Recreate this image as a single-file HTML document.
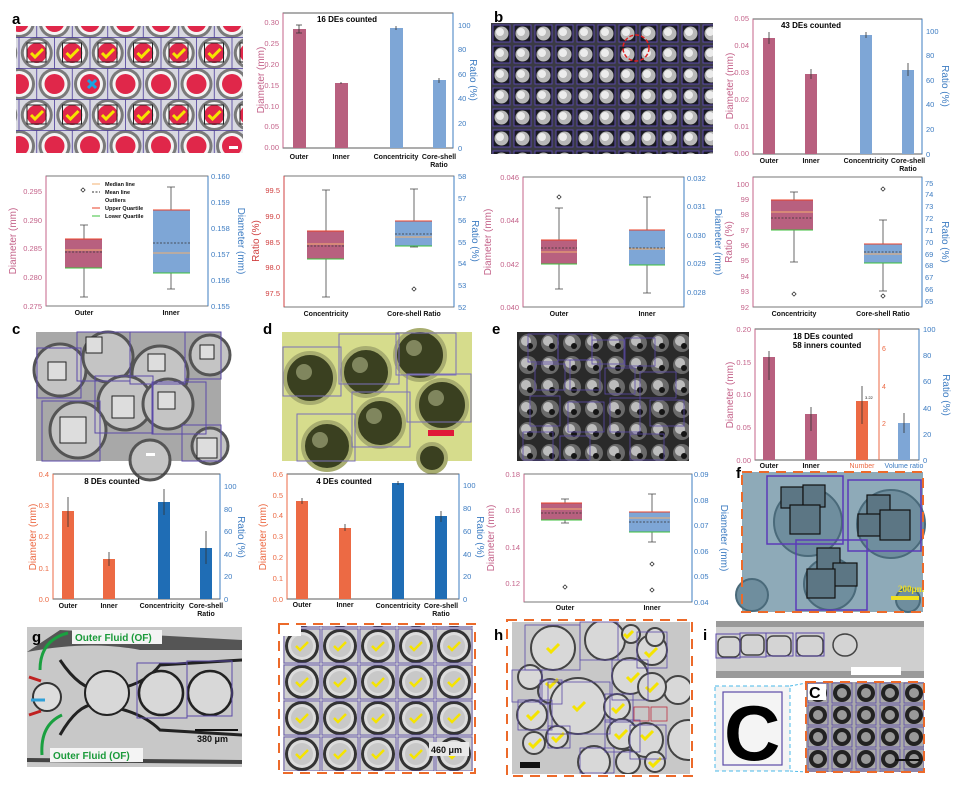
<!DOCTYPE html>
<html><head><meta charset="utf-8"><style>
html,body{margin:0;padding:0;background:#fff;}
svg{display:block;font-family:"Liberation Sans",sans-serif;}
.t{font-size:7.5px;}
.pk{fill:#c4638a;}
.bl{fill:#3d7cc2;}
.or{fill:#ec6a44;}
.k{fill:#111;}
.b{font-weight:bold;}
.cat{font-size:7px;font-weight:bold;fill:#111;text-anchor:middle;}
.al{font-size:10px;}
.lab{font-size:15px;font-weight:bold;fill:#000;}
</style></head><body>
<svg width="955" height="785" viewBox="0 0 955 785" xmlns="http://www.w3.org/2000/svg">
<defs>
<pattern id="pA" x="19" y="22" width="35.5" height="62" patternUnits="userSpaceOnUse">
  <rect width="35.5" height="62" fill="#d8d8e0"/>
  <g fill="#7a7a7a"><circle cx="0" cy="0" r="16"/><circle cx="35.5" cy="0" r="16"/><circle cx="17.75" cy="31" r="16"/><circle cx="0" cy="62" r="16"/><circle cx="35.5" cy="62" r="16"/></g>
  <g fill="#f4f4f4"><circle cx="0" cy="0" r="13"/><circle cx="35.5" cy="0" r="13"/><circle cx="17.75" cy="31" r="13"/><circle cx="0" cy="62" r="13"/><circle cx="35.5" cy="62" r="13"/></g>
  <g fill="#e0274a"><circle cx="0" cy="0" r="10"/><circle cx="35.5" cy="0" r="10"/><circle cx="17.75" cy="31" r="10"/><circle cx="0" cy="62" r="10"/><circle cx="35.5" cy="62" r="10"/></g>
  <path d="M12 31 l4 4 l8 -8" stroke="#f5e400" stroke-width="3" fill="none"/>
  <rect x="8" y="21" width="19" height="19" fill="none" stroke="#222" stroke-width="1"/>
  <path d="M0 15.5H35.5M0 46.5H35.5M35.5 15.5V46.5M0 15.5V46.5M17.75 0V15.5M17.75 46.5V62" stroke="#4a3a9a" stroke-width="0.8"/>
</pattern>
<pattern id="pB" x="491" y="23" width="21" height="21" patternUnits="userSpaceOnUse">
  <rect width="21" height="21" fill="#3a3a44"/>
  <rect x="2" y="2" width="17" height="17" fill="#1a1a22" stroke="#5b4aa8" stroke-width="1"/>
  <circle cx="10.5" cy="10.5" r="7" fill="#b8b8b8"/><circle cx="9" cy="9" r="4" fill="#ececec"/>
</pattern>
<pattern id="pE" x="517" y="332" width="22" height="22" patternUnits="userSpaceOnUse">
  <rect width="22" height="22" fill="#2a2a2a"/>
  <circle cx="11" cy="11" r="9" fill="#6a6a6a"/><circle cx="9" cy="9" r="5" fill="#bdbdbd"/><circle cx="13" cy="14" r="3" fill="#151515"/>
</pattern>
<pattern id="pG" x="283" y="628" width="38" height="36" patternUnits="userSpaceOnUse">
  <rect width="38" height="36" fill="#cfcfcf"/>
  <circle cx="19" cy="18" r="17" fill="#333"/><circle cx="19" cy="18" r="14" fill="#dcdcdc"/><circle cx="19" cy="18" r="11" fill="#c8c8c8"/>
  <path d="M13 18 l4 4 l8 -8" stroke="#f5e400" stroke-width="2.5" fill="none"/>
  <rect x="1" y="1" width="36" height="34" fill="none" stroke="#5b4aa8" stroke-width="0.8"/>
</pattern>
<pattern id="pI" x="806" y="682" width="24" height="22" patternUnits="userSpaceOnUse">
  <rect width="24" height="22" fill="#aaa"/>
  <circle cx="12" cy="11" r="9" fill="#222"/><circle cx="12" cy="11" r="5" fill="#999"/>
  <rect x="2" y="1" width="20" height="20" fill="none" stroke="#5b4aa8" stroke-width="0.8"/>
</pattern>
<clipPath id="cH"><rect x="512" y="622" width="178" height="152"/></clipPath>
<clipPath id="cG"><rect x="27" y="627" width="215" height="140"/></clipPath>
</defs>

<!-- ===== Panel a image ===== -->
<text x="12" y="24" class="lab">a</text>
<rect x="16" y="26" width="227" height="127" fill="url(#pA)"/>
<path d="M88 80 l8 8 M96 80 l-8 8" stroke="#1aa3e0" stroke-width="3"/>
<rect x="229" y="146" width="9" height="3" fill="#fff"/>

<!-- ===== Bar chart a ===== -->
<g>
<rect x="283" y="13" width="170" height="135" fill="none" stroke="#333" stroke-width="0.8"/>
<line x1="283" y1="13" x2="283" y2="148" stroke="#c4638a"/>
<line x1="453" y1="13" x2="453" y2="148" stroke="#3d7cc2"/>
<g class="t pk" text-anchor="end">
<text x="279" y="150">0.00</text><text x="279" y="129">0.05</text><text x="279" y="109">0.10</text><text x="279" y="88">0.15</text><text x="279" y="67">0.20</text><text x="279" y="46">0.25</text><text x="279" y="25">0.30</text></g>
<g class="t bl"><text x="458" y="151">0</text><text x="458" y="126">20</text><text x="458" y="101">40</text><text x="458" y="77">60</text><text x="458" y="52">80</text><text x="458" y="28">100</text></g>
<text transform="translate(264,80) rotate(-90)" class="al pk" text-anchor="middle">Diameter (mm)</text>
<text transform="translate(470,80) rotate(90)" class="al bl" text-anchor="middle">Ratio (%)</text>
<text x="347" y="22" class="b" font-size="8" text-anchor="middle">16 DEs counted</text>
<rect x="293" y="29" width="13" height="119" fill="#b8607f"/>
<rect x="335" y="83" width="13" height="65" fill="#b8607f"/>
<rect x="390" y="28" width="13" height="120" fill="#7ea6d6"/>
<rect x="433" y="80" width="13" height="68" fill="#7ea6d6"/>
<path d="M299 25V33M296 25h6M296 33h6M341 82V84M396 26V30M439 78V83" stroke="#333" stroke-width="0.8"/>
<g class="cat"><text x="299" y="159">Outer</text><text x="341" y="159">Inner</text><text x="396" y="159">Concentricity</text><text x="439" y="159">Core-shell</text><text x="439" y="167">Ratio</text></g>
</g>

<!-- ===== Panel b image ===== -->
<text x="494" y="22" class="lab">b</text>
<rect x="491" y="23" width="222" height="131" fill="url(#pB)"/>
<circle cx="636" cy="48" r="13" fill="none" stroke="#e02020" stroke-width="1.5" stroke-dasharray="4,2"/>

<!-- ===== Bar chart b ===== -->
<g>
<rect x="753" y="19" width="169" height="135" fill="none" stroke="#333" stroke-width="0.8"/>
<line x1="753" y1="19" x2="753" y2="154" stroke="#c4638a"/>
<line x1="922" y1="19" x2="922" y2="154" stroke="#3d7cc2"/>
<g class="t pk" text-anchor="end"><text x="749" y="156">0.00</text><text x="749" y="129">0.01</text><text x="749" y="102">0.02</text><text x="749" y="75">0.03</text><text x="749" y="48">0.04</text><text x="749" y="21">0.05</text></g>
<g class="t bl"><text x="926" y="157">0</text><text x="926" y="132">20</text><text x="926" y="107">40</text><text x="926" y="83">60</text><text x="926" y="58">80</text><text x="926" y="34">100</text></g>
<text transform="translate(733,86) rotate(-90)" class="al pk" text-anchor="middle">Diameter (mm)</text>
<text transform="translate(942,86) rotate(90)" class="al bl" text-anchor="middle">Ratio (%)</text>
<text x="811" y="28" class="b" font-size="8" text-anchor="middle">43 DEs counted</text>
<rect x="763" y="38" width="12" height="116" fill="#b8607f"/>
<rect x="805" y="74" width="12" height="80" fill="#b8607f"/>
<rect x="860" y="35" width="12" height="119" fill="#7ea6d6"/>
<rect x="902" y="70" width="12" height="84" fill="#7ea6d6"/>
<path d="M769 32V44M811 69V79M866 32V38M908 63V76" stroke="#333" stroke-width="0.8"/>
<g class="cat"><text x="769" y="163">Outer</text><text x="811" y="163">Inner</text><text x="866" y="163">Concentricity</text><text x="908" y="163">Core-shell</text><text x="908" y="171">Ratio</text></g>
</g>

<!-- ===== Box a1 ===== -->
<g>
<rect x="46" y="176" width="162" height="130" fill="none" stroke="#555" stroke-width="0.8"/>
<line x1="46" y1="176" x2="46" y2="306" stroke="#c4638a"/>
<line x1="208" y1="176" x2="208" y2="306" stroke="#3d7cc2"/>
<g class="t pk" text-anchor="end"><text x="42" y="309">0.275</text><text x="42" y="280">0.280</text><text x="42" y="251">0.285</text><text x="42" y="223">0.290</text><text x="42" y="194">0.295</text></g>
<g class="t bl"><text x="211" y="309">0.155</text><text x="211" y="283">0.156</text><text x="211" y="257">0.157</text><text x="211" y="231">0.158</text><text x="211" y="205">0.159</text><text x="211" y="179">0.160</text></g>
<text transform="translate(16,241) rotate(-90)" class="al pk" text-anchor="middle">Diameter (mm)</text>
<text transform="translate(238,241) rotate(90)" class="al bl" text-anchor="middle">Diameter (mm)</text>
<path d="M84 225V297M80 225h8M80 297h8M171 187V289M167 187h8M167 289h8" stroke="#444" stroke-width="0.8"/>
<rect x="65" y="239" width="37" height="29" fill="#b8607f"/>
<rect x="153" y="210" width="37" height="63" fill="#7ea6d6"/>
<path d="M65 239h37M153 210h37" stroke="#e8402a" stroke-width="1"/>
<path d="M65 268h37M153 273h37" stroke="#3cc03c" stroke-width="1"/>
<path d="M65 250h37M153 253h37" stroke="#f3b070" stroke-width="1"/>
<path d="M65 252h37M153 243h37" stroke="#333" stroke-width="0.8" stroke-dasharray="2,1.5"/>
<rect x="81.5" y="188.5" width="3" height="3" fill="none" stroke="#222" stroke-width="0.7" transform="rotate(45 83 190)"/>
<g font-size="5.5" class="k b">
<path d="M92 184h8" stroke="#f3b070"/><text x="105" y="186">Median line</text>
<path d="M92 192h8" stroke="#333" stroke-dasharray="2,1.5"/><text x="105" y="194">Mean line</text>
<text x="105" y="202">Outliers</text>
<path d="M92 208h8" stroke="#e8402a"/><text x="105" y="210">Upper Quartile</text>
<path d="M92 216h8" stroke="#3cc03c"/><text x="105" y="218">Lower Quartile</text></g>
<g class="cat"><text x="84" y="315">Outer</text><text x="171" y="315">Inner</text></g>
</g>

<!-- ===== Box a2 ===== -->
<g>
<rect x="284" y="176" width="170" height="131" fill="none" stroke="#555" stroke-width="0.8"/>
<line x1="284" y1="176" x2="284" y2="307" stroke="#d04040"/>
<line x1="454" y1="176" x2="454" y2="307" stroke="#3d7cc2"/>
<g class="t" fill="#d04040" text-anchor="end"><text x="280" y="296">97.5</text><text x="280" y="270">98.0</text><text x="280" y="245">98.5</text><text x="280" y="219">99.0</text><text x="280" y="193">99.5</text></g>
<g class="t bl"><text x="458" y="310">52</text><text x="458" y="288">53</text><text x="458" y="266">54</text><text x="458" y="245">55</text><text x="458" y="223">56</text><text x="458" y="201">57</text><text x="458" y="179">58</text></g>
<text transform="translate(259,241) rotate(-90)" class="al" fill="#d04040" text-anchor="middle">Ratio (%)</text>
<text transform="translate(472,241) rotate(90)" class="al bl" text-anchor="middle">Ratio (%)</text>
<path d="M326 190V297M322 190h8M322 297h8M414 189V247M410 189h8M410 247h8" stroke="#444" stroke-width="0.8"/>
<rect x="307" y="231" width="37" height="28" fill="#b8607f"/>
<rect x="395" y="221" width="37" height="25" fill="#7ea6d6"/>
<path d="M307 231h37M395 221h37" stroke="#e8402a"/>
<path d="M307 259h37M395 246h37" stroke="#3cc03c"/>
<path d="M307 244h37M395 237h37" stroke="#f3b070"/>
<path d="M307 246h37M395 234h37" stroke="#333" stroke-width="0.8" stroke-dasharray="2,1.5"/>
<rect x="412.5" y="287.5" width="3" height="3" fill="none" stroke="#222" stroke-width="0.7" transform="rotate(45 414 289)"/>
<g class="cat"><text x="326" y="316">Concentricity</text><text x="414" y="316">Core-shell Ratio</text></g>
</g>

<!-- ===== Box b1 ===== -->
<g>
<rect x="523" y="177" width="161" height="130" fill="none" stroke="#555" stroke-width="0.8"/>
<line x1="523" y1="177" x2="523" y2="307" stroke="#c4638a"/>
<line x1="684" y1="177" x2="684" y2="307" stroke="#3d7cc2"/>
<g class="t pk" text-anchor="end"><text x="519" y="310">0.040</text><text x="519" y="267">0.042</text><text x="519" y="223">0.044</text><text x="519" y="180">0.046</text></g>
<g class="t bl"><text x="687" y="295">0.028</text><text x="687" y="266">0.029</text><text x="687" y="238">0.030</text><text x="687" y="209">0.031</text><text x="687" y="181">0.032</text></g>
<text transform="translate(491,242) rotate(-90)" class="al pk" text-anchor="middle">Diameter (mm)</text>
<text transform="translate(715,242) rotate(90)" class="al bl" text-anchor="middle">Diameter (mm)</text>
<path d="M559 208V289M555 208h8M555 289h8M647 197V293M643 197h8M643 293h8" stroke="#444" stroke-width="0.8"/>
<rect x="541" y="240" width="36" height="24" fill="#b8607f"/>
<rect x="629" y="230" width="36" height="35" fill="#7ea6d6"/>
<path d="M541 240h36M629 230h36" stroke="#e8402a"/>
<path d="M541 264h36M629 265h36" stroke="#3cc03c"/>
<path d="M541 252h36M629 249h36" stroke="#f3b070"/>
<path d="M541 248h36M629 248h36" stroke="#333" stroke-width="0.8" stroke-dasharray="2,1.5"/>
<rect x="557.5" y="195.5" width="3" height="3" fill="none" stroke="#222" stroke-width="0.7" transform="rotate(45 559 197)"/>
<g class="cat"><text x="559" y="316">Outer</text><text x="647" y="316">Inner</text></g>
</g>

<!-- ===== Box b2 ===== -->
<g>
<rect x="753" y="177" width="169" height="130" fill="none" stroke="#555" stroke-width="0.8"/>
<line x1="753" y1="177" x2="753" y2="307" stroke="#c4638a"/>
<line x1="922" y1="177" x2="922" y2="307" stroke="#3d7cc2"/>
<g class="t pk" text-anchor="end"><text x="749" y="310">92</text><text x="749" y="294">93</text><text x="749" y="279">94</text><text x="749" y="263">95</text><text x="749" y="248">96</text><text x="749" y="233">97</text><text x="749" y="217">98</text><text x="749" y="202">99</text><text x="749" y="187">100</text></g>
<g class="t bl"><text x="925" y="304">65</text><text x="925" y="292">66</text><text x="925" y="280">67</text><text x="925" y="268">68</text><text x="925" y="257">69</text><text x="925" y="245">70</text><text x="925" y="233">71</text><text x="925" y="221">72</text><text x="925" y="209">73</text><text x="925" y="197">74</text><text x="925" y="186">75</text></g>
<text transform="translate(732,242) rotate(-90)" class="al pk" text-anchor="middle">Ratio (%)</text>
<text transform="translate(942,242) rotate(90)" class="al bl" text-anchor="middle">Ratio (%)</text>
<path d="M794 192V262M790 192h8M790 262h8M883 220V291M879 220h8M879 291h8" stroke="#444" stroke-width="0.8"/>
<rect x="771" y="200" width="42" height="30" fill="#b8607f"/>
<rect x="864" y="244" width="38" height="19" fill="#7ea6d6"/>
<path d="M771 200h42M864 244h38" stroke="#e8402a"/>
<path d="M771 230h42M864 263h38" stroke="#3cc03c"/>
<path d="M771 212h42M864 254h38" stroke="#f3b070"/>
<path d="M771 218h42M864 252h38" stroke="#333" stroke-width="0.8" stroke-dasharray="2,1.5"/>
<g fill="none" stroke="#222" stroke-width="0.7">
<rect x="792.5" y="292.5" width="3" height="3" transform="rotate(45 794 294)"/>
<rect x="881.5" y="187.5" width="3" height="3" transform="rotate(45 883 189)"/>
<rect x="881.5" y="294.5" width="3" height="3" transform="rotate(45 883 296)"/></g>
<g class="cat"><text x="794" y="316">Concentricity</text><text x="883" y="316">Core-shell Ratio</text></g>
</g>

<!-- ===== Panel c image ===== -->
<text x="12" y="334" class="lab">c</text>
<rect x="36" y="332" width="185" height="129" fill="#a8a8a8"/>
<g fill="#c4c4c4" stroke="#555" stroke-width="3">
<circle cx="60" cy="370" r="26"/><circle cx="108" cy="357" r="25"/><circle cx="160" cy="374" r="28"/><circle cx="210" cy="355" r="20"/>
<circle cx="125" cy="403" r="27"/><circle cx="168" cy="404" r="25"/><circle cx="78" cy="430" r="28"/><circle cx="210" cy="446" r="18"/><circle cx="150" cy="460" r="20"/></g>
<g fill="#ddd" stroke="#222" stroke-width="1">
<rect x="48" y="362" width="18" height="18"/><rect x="86" y="337" width="16" height="16"/><rect x="148" y="354" width="17" height="17"/><rect x="200" y="345" width="14" height="14"/>
<rect x="112" y="396" width="22" height="22"/><rect x="158" y="392" width="17" height="17"/><rect x="60" y="417" width="26" height="26"/><rect x="197" y="438" width="20" height="20"/></g>
<g fill="none" stroke="#5b4aa8" stroke-width="1">
<rect x="37" y="348" width="44" height="50"/><rect x="77" y="332" width="53" height="49"/><rect x="130" y="332" width="55" height="52"/><rect x="185" y="332" width="36" height="47"/>
<rect x="95" y="376" width="58" height="57"/><rect x="152" y="382" width="54" height="52"/><rect x="42" y="401" width="58" height="60"/><rect x="182" y="425" width="39" height="36"/></g>
<rect x="146" y="453" width="9" height="3" fill="#fff"/>

<!-- ===== Panel d image ===== -->
<text x="263" y="334" class="lab">d</text>
<rect x="282" y="332" width="190" height="129" fill="#d6dc8c"/>
<g fill="#3a4020" stroke="#a8ad70" stroke-width="4">
<circle cx="310" cy="378" r="25"/><circle cx="366" cy="372" r="24"/><circle cx="420" cy="355" r="25"/><circle cx="442" cy="405" r="25"/><circle cx="380" cy="423" r="24"/><circle cx="327" cy="446" r="24"/><circle cx="432" cy="458" r="14"/></g>
<g fill="#b0b688" opacity="0.6"><circle cx="304" cy="372" r="8"/><circle cx="360" cy="365" r="8"/><circle cx="414" cy="348" r="8"/><circle cx="436" cy="398" r="8"/><circle cx="374" cy="416" r="8"/><circle cx="320" cy="440" r="8"/></g>
<g fill="none" stroke="#7b70b8" stroke-width="1">
<rect x="283" y="347" width="58" height="49"/><rect x="339" y="334" width="60" height="50"/><rect x="396" y="333" width="60" height="42"/><rect x="407" y="374" width="64" height="48"/>
<rect x="352" y="392" width="58" height="55"/><rect x="297" y="414" width="58" height="47"/></g>
<rect x="428" y="430" width="26" height="6" fill="#e01838"/>

<!-- ===== Panel e image ===== -->
<text x="492" y="334" class="lab">e</text>
<rect x="517" y="332" width="172" height="129" fill="url(#pE)"/>
<g fill="none" stroke="#5b4aa8" stroke-width="0.8">
<rect x="528" y="334" width="30" height="28"/><rect x="558" y="334" width="34" height="26"/><rect x="592" y="340" width="32" height="24"/><rect x="625" y="338" width="30" height="28"/>
<rect x="535" y="364" width="30" height="26"/><rect x="570" y="360" width="30" height="30"/><rect x="605" y="368" width="30" height="26"/><rect x="640" y="372" width="36" height="26"/>
<rect x="530" y="396" width="30" height="30"/><rect x="568" y="402" width="36" height="30"/><rect x="610" y="398" width="30" height="34"/><rect x="650" y="400" width="34" height="26"/>
<rect x="523" y="432" width="30" height="28"/><rect x="560" y="436" width="30" height="24"/><rect x="630" y="434" width="34" height="26"/></g>

<!-- ===== Bar chart e ===== -->
<g>
<rect x="755" y="329" width="164" height="131" fill="none" stroke="#333" stroke-width="0.8"/>
<line x1="755" y1="329" x2="755" y2="460" stroke="#c4638a"/>
<line x1="919" y1="329" x2="919" y2="460" stroke="#3d7cc2"/>
<line x1="879" y1="329" x2="879" y2="460" stroke="#ec6a44"/>
<g class="t pk" text-anchor="end"><text x="751" y="463">0.00</text><text x="751" y="430">0.05</text><text x="751" y="397">0.10</text><text x="751" y="365">0.15</text><text x="751" y="332">0.20</text></g>
<g class="t bl"><text x="923" y="463">0</text><text x="923" y="437">20</text><text x="923" y="411">40</text><text x="923" y="384">60</text><text x="923" y="358">80</text><text x="923" y="332">100</text></g>
<g font-size="7" class="or"><text x="882" y="426">2</text><text x="882" y="389">4</text><text x="882" y="351">6</text></g>
<text transform="translate(733,395) rotate(-90)" class="al pk" text-anchor="middle">Diameter (mm)</text>
<text transform="translate(943,395) rotate(90)" class="al bl" text-anchor="middle">Ratio (%)</text>
<text x="823" y="339" class="b" font-size="8" text-anchor="middle">18 DEs counted</text>
<text x="827" y="348" class="b" font-size="8" text-anchor="middle">58 inners counted</text>
<rect x="763" y="357" width="12" height="103" fill="#b8607f"/>
<rect x="805" y="414" width="12" height="46" fill="#b8607f"/>
<rect x="856" y="401" width="12" height="59" fill="#ec6a44"/>
<rect x="898" y="423" width="12" height="37" fill="#7ea6d6"/>
<path d="M769 351V380M811 407V431M862 386V424M904 413V433" stroke="#333" stroke-width="0.8"/>
<text x="865" y="399" font-size="4" class="k">3.22</text>
<g class="cat"><text x="769" y="468">Outer</text><text x="811" y="468">Inner</text></g>
<text x="862" y="468" font-size="7" class="or" text-anchor="middle">Number</text>
<text x="904" y="468" font-size="7" class="bl" text-anchor="middle">Volume ratio</text>
</g>

<!-- ===== Bar c ===== -->
<g>
<rect x="53" y="474" width="167" height="125" fill="none" stroke="#333" stroke-width="0.8"/>
<line x1="53" y1="474" x2="53" y2="599" stroke="#ec6a44"/>
<line x1="220" y1="474" x2="220" y2="599" stroke="#3d7cc2"/>
<g class="t or" text-anchor="end"><text x="49" y="602">0.0</text><text x="49" y="571">0.1</text><text x="49" y="539">0.2</text><text x="49" y="508">0.3</text><text x="49" y="477">0.4</text></g>
<g class="t bl"><text x="224" y="602">0</text><text x="224" y="579">20</text><text x="224" y="557">40</text><text x="224" y="534">60</text><text x="224" y="512">80</text><text x="224" y="489">100</text></g>
<text transform="translate(36,537) rotate(-90)" class="al or" text-anchor="middle">Diameter (mm)</text>
<text transform="translate(238,537) rotate(90)" class="al bl" text-anchor="middle">Ratio (%)</text>
<text x="112" y="484" class="b" font-size="8" text-anchor="middle">8 DEs counted</text>
<rect x="62" y="511" width="12" height="88" fill="#ec6a44"/>
<rect x="103" y="559" width="12" height="40" fill="#ec6a44"/>
<rect x="158" y="502" width="12" height="97" fill="#1f6db5"/>
<rect x="200" y="548" width="12" height="51" fill="#1f6db5"/>
<path d="M68 497V527M109 552V566M164 489V515M206 531V564" stroke="#333" stroke-width="0.8"/>
<g class="cat"><text x="68" y="608">Outer</text><text x="109" y="608">Inner</text><text x="162" y="608">Concentricity</text><text x="206" y="608">Core-shell</text><text x="206" y="616">Ratio</text></g>
</g>

<!-- ===== Bar d ===== -->
<g>
<rect x="287" y="474" width="172" height="125" fill="none" stroke="#333" stroke-width="0.8"/>
<line x1="287" y1="474" x2="287" y2="599" stroke="#ec6a44"/>
<line x1="459" y1="474" x2="459" y2="599" stroke="#3d7cc2"/>
<g class="t or" text-anchor="end"><text x="283" y="602">0.0</text><text x="283" y="581">0.1</text><text x="283" y="560">0.2</text><text x="283" y="539">0.3</text><text x="283" y="518">0.4</text><text x="283" y="498">0.5</text><text x="283" y="477">0.6</text></g>
<g class="t bl"><text x="463" y="602">0</text><text x="463" y="579">20</text><text x="463" y="557">40</text><text x="463" y="534">60</text><text x="463" y="511">80</text><text x="463" y="488">100</text></g>
<text transform="translate(266,537) rotate(-90)" class="al or" text-anchor="middle">Diameter (mm)</text>
<text transform="translate(477,537) rotate(90)" class="al bl" text-anchor="middle">Ratio (%)</text>
<text x="344" y="484" class="b" font-size="8" text-anchor="middle">4 DEs counted</text>
<rect x="296" y="501" width="12" height="98" fill="#ec6a44"/>
<rect x="339" y="528" width="12" height="71" fill="#ec6a44"/>
<rect x="392" y="483" width="12" height="116" fill="#1f6db5"/>
<rect x="435" y="516" width="12" height="83" fill="#1f6db5"/>
<path d="M302 498V504M345 524V531M398 481V485M441 511V522" stroke="#333" stroke-width="0.8"/>
<g class="cat"><text x="302" y="607">Outer</text><text x="345" y="607">Inner</text><text x="398" y="608">Concentricity</text><text x="441" y="608">Core-shell</text><text x="441" y="616">Ratio</text></g>
</g>

<!-- ===== Box e ===== -->
<g>
<rect x="524" y="474" width="168" height="128" fill="none" stroke="#555" stroke-width="0.8"/>
<line x1="524" y1="474" x2="524" y2="602" stroke="#c4638a"/>
<line x1="692" y1="474" x2="692" y2="602" stroke="#3d7cc2"/>
<g class="t pk" text-anchor="end"><text x="520" y="586">0.12</text><text x="520" y="550">0.14</text><text x="520" y="513">0.16</text><text x="520" y="477">0.18</text></g>
<g class="t bl"><text x="694" y="605">0.04</text><text x="694" y="579">0.05</text><text x="694" y="554">0.06</text><text x="694" y="528">0.07</text><text x="694" y="503">0.08</text><text x="694" y="477">0.09</text></g>
<text transform="translate(494,538) rotate(-90)" class="al pk" text-anchor="middle">Diameter (mm)</text>
<text transform="translate(721,538) rotate(90)" class="al bl" text-anchor="middle">Diameter (mm)</text>
<path d="M565 499V523M561 499h8M561 523h8M652 494V542M648 494h8M648 542h8" stroke="#444" stroke-width="0.8"/>
<rect x="541" y="503" width="41" height="17" fill="#b8607f"/>
<rect x="629" y="512" width="41" height="20" fill="#7ea6d6"/>
<path d="M541 503h41M629 512h41" stroke="#e8402a"/>
<path d="M541 520h41M629 532h41" stroke="#3cc03c"/>
<path d="M541 509h41M629 518h41" stroke="#f3b070"/>
<path d="M541 513h41M629 522h41" stroke="#333" stroke-width="0.8" stroke-dasharray="2,1.5"/>
<g fill="none" stroke="#222" stroke-width="0.7">
<rect x="563.5" y="585.5" width="3" height="3" transform="rotate(45 565 587)"/>
<rect x="650.5" y="562.5" width="3" height="3" transform="rotate(45 652 564)"/>
<rect x="650.5" y="588.5" width="3" height="3" transform="rotate(45 652 590)"/></g>
<g class="cat"><text x="565" y="610">Outer</text><text x="652" y="610">Inner</text></g>
</g>

<!-- ===== Panel f ===== -->
<text x="736" y="478" class="lab">f</text>
<rect x="742" y="472" width="181" height="140" fill="#8eaab8"/>
<g fill="#6f8e9e" stroke="#4a6a7a" stroke-width="2">
<circle cx="808" cy="522" r="34"/><circle cx="891" cy="524" r="34"/><circle cx="830" cy="584" r="26"/><circle cx="752" cy="595" r="16"/><circle cx="908" cy="600" r="12"/></g>
<g fill="#5c7684" stroke="#111" stroke-width="1.2">
<rect x="781" y="487" width="22" height="21"/><rect x="803" y="485" width="22" height="22"/><rect x="790" y="505" width="30" height="29"/>
<rect x="867" y="495" width="23" height="21"/><rect x="858" y="514" width="22" height="22"/><rect x="880" y="510" width="30" height="30"/>
<rect x="817" y="548" width="23" height="22"/><rect x="833" y="563" width="24" height="23"/><rect x="807" y="569" width="28" height="29"/></g>
<g fill="none" stroke="#5b3ab8" stroke-width="1.5">
<rect x="767" y="476" width="76" height="68"/><rect x="848" y="480" width="73" height="71"/><rect x="796" y="540" width="71" height="70"/></g>
<text x="898" y="592" font-size="9" font-weight="bold" fill="#f0e020" font-family="Liberation Serif,serif">200μm</text>
<rect x="891" y="596" width="28" height="4" fill="#f0e020"/>
<rect x="742" y="472" width="181" height="140" fill="none" stroke="#ec6a2a" stroke-width="2" stroke-dasharray="10,7"/>

<!-- ===== Panel g ===== -->
<rect x="27" y="627" width="215" height="140" fill="#c8c8c8"/>
<g clip-path="url(#cG)">
<path d="M27 652 Q90 640 140 650 L242 650 L242 640 L60 630" fill="#555"/>
<path d="M60 660 Q80 690 100 690 Q140 690 160 665 L242 660" stroke="#222" stroke-width="3" fill="none"/>
<path d="M60 735 Q80 700 100 705 Q140 710 160 730 L242 735" stroke="#222" stroke-width="3" fill="none"/>
<path d="M27 760 L242 762" stroke="#444" stroke-width="4"/>
<circle cx="47" cy="697" r="14" fill="#ddd" stroke="#333" stroke-width="2"/>
<circle cx="107" cy="693" r="22" fill="#d8d8d8" stroke="#222" stroke-width="2"/>
<circle cx="161" cy="693" r="22" fill="#d8d8d8" stroke="#222" stroke-width="2.5"/>
<circle cx="210" cy="693" r="22" fill="#d8d8d8" stroke="#222" stroke-width="2.5"/>
</g>
<rect x="137" y="663" width="50" height="55" fill="none" stroke="#5b4aa8"/>
<rect x="187" y="661" width="45" height="55" fill="none" stroke="#5b4aa8"/>
<text x="32" y="642" class="lab">g</text>
<rect x="72" y="630" width="90" height="14" fill="#f4f4f4"/>
<text x="75" y="641" font-size="10" font-weight="bold" fill="#1a9a3a">Outer Fluid (OF)</text>
<rect x="50" y="748" width="93" height="14" fill="#f4f4f4"/>
<text x="53" y="759" font-size="10" font-weight="bold" fill="#1a9a3a">Outer Fluid (OF)</text>
<path d="M68 633 Q40 640 40 670" stroke="#1aa040" stroke-width="3" fill="none"/>
<path d="M62 715 Q40 725 42 755" stroke="#1aa040" stroke-width="3" fill="none"/>
<path d="M29 677 l12 4" stroke="#c02020" stroke-width="3"/><path d="M29 715 l12 -4" stroke="#c02020" stroke-width="3"/>
<path d="M31 700 h14" stroke="#30a0d8" stroke-width="3"/>
<rect x="195" y="729" width="43" height="2" fill="#111"/>
<text x="197" y="742" font-size="9" font-weight="bold" fill="#111">380 μm</text>

<!-- ===== Panel g2 ===== -->
<rect x="283" y="626" width="190" height="145" fill="url(#pG)"/>
<rect x="283" y="626" width="18" height="10" fill="#fff"/>
<rect x="429" y="742" width="40" height="14" fill="#e8e8e8"/>
<text x="431" y="753" font-size="9" font-weight="bold" fill="#111">460 μm</text>
<rect x="279" y="624" width="196" height="149" fill="none" stroke="#ec6a2a" stroke-width="2" stroke-dasharray="10,7"/>

<!-- ===== Panel h ===== -->
<text x="494" y="640" class="lab">h</text>
<rect x="512" y="622" width="178" height="152" fill="#c8c8c8"/>
<g clip-path="url(#cH)">
<g fill="#d8d8d8" stroke="#444" stroke-width="2">
<circle cx="553" cy="648" r="22"/><circle cx="605" cy="640" r="20"/><circle cx="630" cy="676" r="18"/><circle cx="652" cy="650" r="15"/><circle cx="678" cy="690" r="14"/>
<circle cx="530" cy="677" r="12"/><circle cx="550" cy="691" r="12"/><circle cx="578" cy="706" r="28"/><circle cx="652" cy="687" r="14"/>
<circle cx="532" cy="715" r="15"/><circle cx="617" cy="707" r="13"/><circle cx="622" cy="734" r="15"/><circle cx="646" cy="740" r="17"/>
<circle cx="534" cy="743" r="11"/><circle cx="557" cy="737" r="11"/><circle cx="594" cy="762" r="16"/><circle cx="628" cy="762" r="12"/><circle cx="655" cy="762" r="10"/><circle cx="688" cy="740" r="20"/><circle cx="655" cy="637" r="9"/><circle cx="631" cy="634" r="9"/></g>
</g>
<g stroke="#f5e400" stroke-width="3" fill="none">
<path d="M547 648l4 4l8-8M645 652l4 4l8-8M627 677l4 4l8-8M573 706l4 4l8-8M527 715l4 4l8-8M612 708l4 4l8-8M641 735l4 4l8-8M529 743l4 4l8-8M552 737l4 4l8-8M615 734l4 4l8-8M649 762l4 4l8-8M624 634l3 3l6-6M546 683l4 4l8-8M646 687l4 4l8-8"/></g>
<g fill="none" stroke="#5b4aa8" stroke-width="0.8">
<rect x="525" y="625" width="55" height="45"/><rect x="580" y="622" width="38" height="38"/><rect x="612" y="660" width="36" height="40"/><rect x="637" y="632" width="30" height="36"/>
<rect x="512" y="670" width="30" height="32"/><rect x="540" y="680" width="22" height="24"/><rect x="548" y="682" width="62" height="52"/><rect x="518" y="700" width="34" height="30"/>
<rect x="605" y="694" width="28" height="28"/><rect x="548" y="726" width="22" height="22"/><rect x="605" y="720" width="35" height="32"/><rect x="630" y="725" width="36" height="34"/><rect x="580" y="748" width="34" height="25"/></g>
<g fill="none" stroke="#c03040" stroke-width="0.8"><rect x="634" y="707" width="15" height="14"/><rect x="651" y="707" width="16" height="14"/></g>
<rect x="520" y="762" width="20" height="6" fill="#111"/>
<rect x="507" y="620" width="185" height="156" fill="none" stroke="#ec6a2a" stroke-width="2" stroke-dasharray="10,7"/>

<!-- ===== Panel i ===== -->
<text x="703" y="640" class="lab">i</text>
<rect x="716" y="621" width="208" height="57" fill="#9a9a9a"/>
<rect x="716" y="627" width="208" height="44" fill="#cfcfcf"/>
<g fill="#d4d4d4" stroke="#444" stroke-width="1.5">
<rect x="718" y="637" width="22" height="20" rx="6"/><rect x="741" y="635" width="23" height="20" rx="6"/><rect x="767" y="636" width="24" height="20" rx="6"/><rect x="797" y="636" width="26" height="20" rx="6"/><ellipse cx="845" cy="645" rx="12" ry="11"/></g>
<g fill="none" stroke="#5b4aa8"><rect x="716" y="634" width="24" height="24"/><rect x="740" y="633" width="26" height="24"/><rect x="766" y="633" width="27" height="23"/><rect x="796" y="633" width="28" height="23"/></g>
<rect x="851" y="667" width="50" height="8" fill="#fff"/>
<rect x="715" y="686" width="75" height="85" fill="#f4f4f4" stroke="#48b8e8" stroke-dasharray="4,3"/>
<rect x="723" y="692" width="59" height="73" fill="none" stroke="#5b4aa8" stroke-width="1.2"/>
<text x="724" y="760" font-size="78" font-weight="bold" fill="#000" font-family="Liberation Sans,sans-serif">C</text>
<path d="M790 686 L812 682 M790 771 L806 772" stroke="#48b8e8" stroke-dasharray="3,2"/>
<rect x="806" y="682" width="118" height="90" fill="url(#pI)"/>
<rect x="808" y="684" width="18" height="16" fill="#fff"/>
<text x="809" y="698" font-size="16" font-weight="bold">C</text>
<rect x="895" y="759" width="25" height="2" fill="#111"/>
<rect x="806" y="682" width="118" height="90" fill="none" stroke="#ec6a2a" stroke-width="2" stroke-dasharray="10,7"/>
</svg>
</body></html>
